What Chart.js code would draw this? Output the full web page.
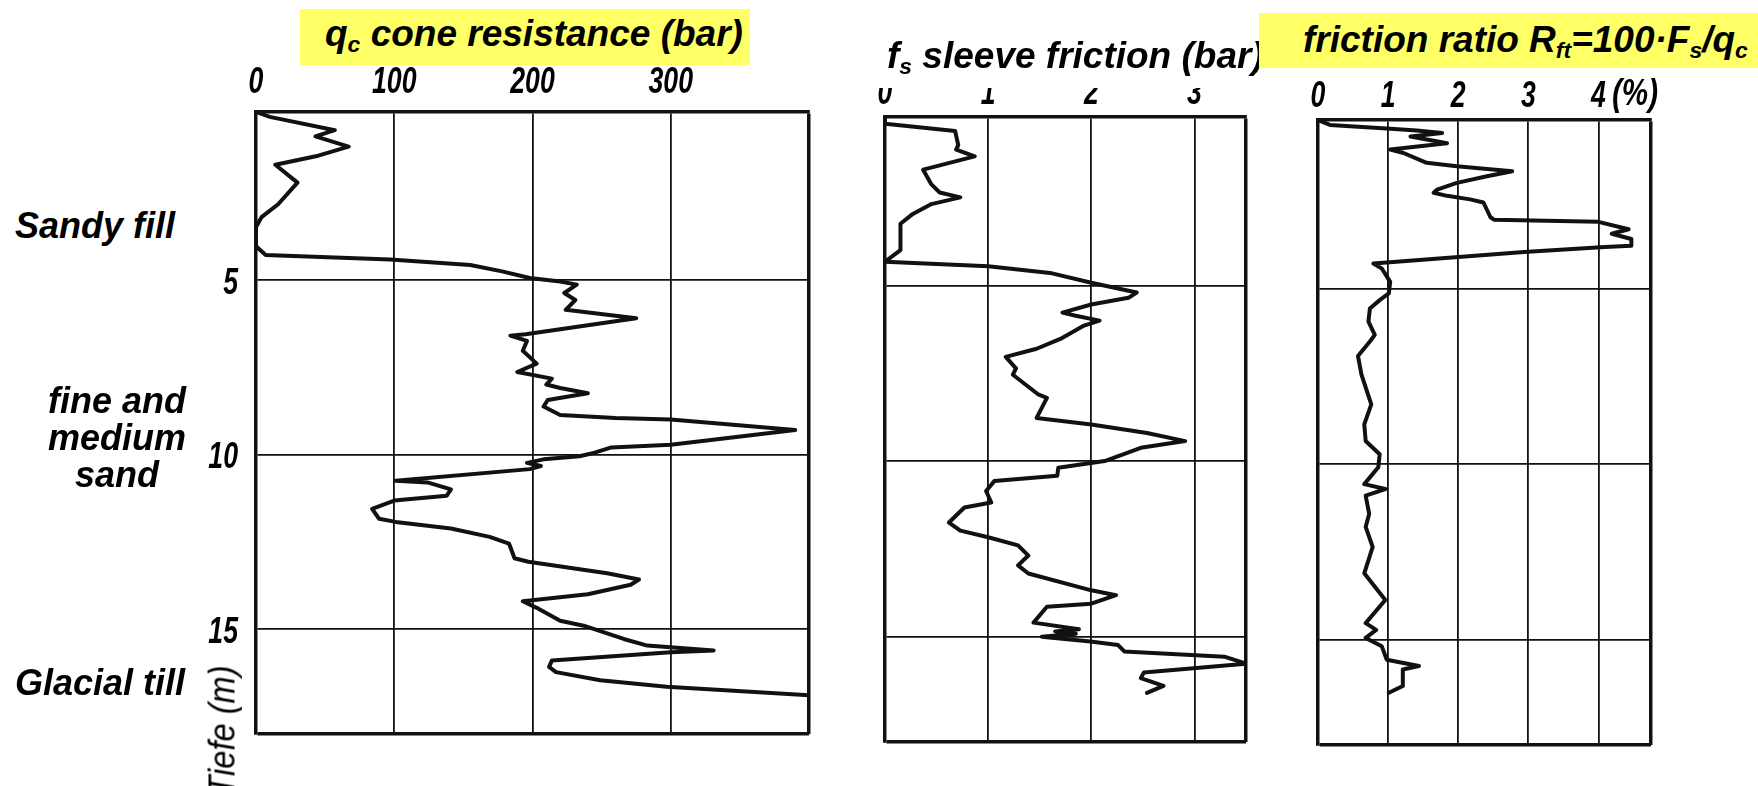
<!DOCTYPE html>
<html>
<head>
<meta charset="utf-8">
<script src="https://cdn.jsdelivr.net/npm/chart.js@4.4.0/dist/chart.umd.min.js"></script>
<style>
  html, body { margin: 0; padding: 0; background: #fff; }
  #page { position: relative; width: 1758px; height: 786px; overflow: hidden; background: #fff;
          font-family: 'Liberation Sans', Arial, sans-serif; color: #000; }
  canvas { position: absolute; }
  .box { position: absolute; }
  .yellow { background: #ffff66; }
  .title { position: absolute; font-weight: bold; font-style: italic; font-size: 37px; line-height: 37px; white-space: nowrap; }
  .title sub { font-size: 62%; vertical-align: -0.28em; line-height: 0; }
  .layer { position: absolute; font-weight: bold; font-style: italic; font-size: 36px; line-height: 37px; white-space: nowrap; }
  .axisText { position: absolute; font-style: italic; font-weight: bold; font-size: 37px; line-height: 37px; white-space: nowrap; }
</style>
</head>
<body>
<div id="page">
  <canvas id="qcChart" width="650" height="720" style="left:180px;top:40px;width:650px;height:720px"></canvas>
  <canvas id="fsChart" width="430" height="720" style="left:840px;top:40px;width:430px;height:720px"></canvas>
  <canvas id="rfChart" width="420" height="720" style="left:1280px;top:40px;width:420px;height:720px"></canvas>

  <!-- titles -->
  <div class="box yellow" style="left:300px;top:9px;width:450px;height:56px;z-index:2"></div>
  <div class="title" style="left:325px;top:15px;z-index:3">q<sub>c</sub> cone resistance (bar)</div>

  <div class="box" style="left:870px;top:30px;width:389px;height:58px;background:#fff;z-index:2"></div>
  <div class="title" style="left:887px;top:37px;z-index:3">f<sub>s</sub> sleeve friction (bar)</div>

  <div class="box yellow" style="left:1259px;top:13px;width:499px;height:55px;z-index:4"></div>
  <div class="title" style="left:1303px;top:21px;z-index:5">friction ratio R<sub>ft</sub>=100·F<sub>s</sub>/q<sub>c</sub></div>

  <div class="axisText" style="left:1612px;top:74px;transform:scaleX(0.8);transform-origin:left">(%)</div>

  <!-- soil layers -->
  <div class="layer" style="left:15px;top:207px">Sandy fill</div>
  <div class="layer" style="left:17px;top:382px;width:200px;text-align:center">fine and<br>medium<br>sand</div>
  <div class="layer" style="left:15px;top:664px">Glacial till</div>

  <div class="axisText" style="left:147px;top:712px;width:150px;font-size:37px;font-weight:normal;text-align:center;transform:rotate(-90deg) scaleX(0.88)">Tiefe (m)</div>
</div>

<script>
const qcDepth = [0.2, 0.34, 0.72, 0.9, 1.19, 1.45, 1.71, 2.22, 2.84, 3.21, 3.49, 4.04, 4.29, 4.42, 4.58, 4.76, 4.95,
    5.05, 5.14, 5.38, 5.58, 5.86, 6.1, 6.56, 6.6, 6.75, 7.03, 7.4, 7.64, 7.83, 8.0, 8.1, 8.25, 8.44, 8.63, 8.87,
    8.96, 9.0, 9.3, 9.72, 9.8, 9.95, 10.05, 10.14, 10.24, 10.33, 10.42, 10.75, 10.8, 11.0, 11.18, 11.32, 11.56,
    11.84, 11.93, 12.12, 12.36, 12.55, 12.97, 13.07, 13.4, 13.58, 13.73, 14.0, 14.2, 14.39, 14.76, 14.9, 15.28,
    15.47, 15.61, 15.66, 15.9, 16.08, 16.23, 16.46, 16.65, 16.89];
const qcValue = [0, 10, 57, 43, 67, 45, 14, 30, 16, 4, 0, 0, 7, 97, 155, 178, 198,
    220, 232, 223, 231, 224, 275, 195, 184, 196, 193, 203, 189, 214, 210, 220, 240, 211, 208, 220,
    260, 300, 390, 300, 257, 245, 234, 208, 196, 206, 198, 101, 124, 141, 138, 100, 84,
    89, 101, 141, 169, 183, 187, 197, 254, 277, 271, 240, 193, 203, 220, 237, 266,
    283, 331, 300, 214, 212, 217, 249, 297, 400];

const fsDepth = [0.2, 0.39, 0.6, 1.0, 1.13, 1.32, 1.7, 2.12, 2.35, 2.49, 2.68, 2.96, 3.24, 3.99, 4.32, 4.45, 4.64,
    4.92, 5.2, 5.35, 5.54, 5.77, 5.86, 6.0, 6.14, 6.52, 6.8, 7.03, 7.36, 7.54, 8.11, 8.2, 8.77, 8.96, 9.2,
    9.43, 9.62, 10.0, 10.19, 10.42, 10.57, 10.85, 11.18, 11.32, 11.75, 11.98, 12.17, 12.4, 12.69, 12.97, 13.2,
    13.68, 13.82, 14.06, 14.15, 14.6, 14.79, 14.85, 14.92, 15.0, 15.14, 15.24, 15.42, 15.57, 15.77, 16.02,
    16.18, 16.4, 16.6];
const fsValue = [0, 0, 0.68, 0.71, 0.69, 0.87, 0.37, 0.45, 0.53, 0.73, 0.45, 0.27, 0.15, 0.15, 0, 1.0, 1.6,
    2.0, 2.44, 2.36, 2.0, 1.72, 1.85, 2.08, 1.93, 1.7, 1.47, 1.17, 1.27, 1.24, 1.49, 1.57, 1.47, 2.0, 2.54,
    2.91, 2.48, 2.13, 1.68, 1.67, 1.06, 0.98, 1.03, 0.77, 0.62, 0.73, 1.0, 1.29, 1.39, 1.29, 1.39,
    2.0, 2.24, 2.0, 1.57, 1.44, 1.88, 1.65, 1.85, 1.52, 1.99, 2.26, 2.32, 3.29, 3.5, 2.51,
    2.48, 2.7, 2.54];

const rfDepth = [0.2, 0.34, 0.44, 0.5, 0.57, 0.67, 0.86, 1.04, 1.14, 1.42, 1.52, 1.66, 1.8, 1.99, 2.18, 2.27,
    2.36, 2.46, 2.55, 2.97, 3.04, 3.1, 3.31, 3.44, 3.59, 3.78, 3.82, 3.96, 4.29, 4.43, 4.81, 5.14, 5.33, 5.57,
    5.94, 6.32, 6.51, 6.92, 7.45, 8.3, 8.87, 9.34, 9.72, 10.09, 10.57, 10.71, 10.9, 11.42, 11.79, 12.36, 13.11,
    13.87, 14.53, 14.72, 14.95, 15.19, 15.57, 15.75, 15.85, 16.32, 16.51];
const rfValue = [0, 0.17, 0.98, 1.41, 1.77, 1.32, 1.84, 1.03, 1.22, 1.55, 1.98, 2.77, 2.41, 1.98, 1.7, 1.65,
    1.84, 2.17, 2.36, 2.46, 2.51, 4.0, 4.43, 4.19, 4.47, 4.47, 4.09, 2.94, 0.79, 0.91, 1.03, 1.01, 0.88, 0.74,
    0.72, 0.81, 0.74, 0.57, 0.62, 0.76, 0.66, 0.68, 0.88, 0.86, 0.66, 0.96, 0.68, 0.73, 0.68, 0.78, 0.66,
    0.96, 0.68, 0.83, 0.68, 0.91, 0.98, 1.44, 1.21, 1.21, 1.01];

// tick labels
const depthTicks = [5, 10, 15];
const qcTicks = [0, 100, 200, 300];
const fsTicks = [0, 1, 2, 3];
const rfTicks = [0, 1, 2, 3, 4];

const DEPTH_MIN = 0.2;
const DEPTH_MAX = 18;
const INK = '#111';

/**
 * 窄斜体刻度文字 (原图是压缩字体), 位置取自坐标轴
 */
const narrowTicks = {
    id: 'narrowTicks',
    afterDraw(chart, args, opts) {
        const ctx = chart.ctx;
        const area = chart.chartArea;
        ctx.save();
        ctx.fillStyle = '#000';
        ctx.font = 'italic bold 37px "Liberation Sans", Arial, sans-serif';
        ctx.textBaseline = 'alphabetic';

        ctx.textAlign = 'center';
        opts.xTicks.forEach(v => {
            ctx.save();
            ctx.translate(chart.scales.x.getPixelForValue(v), area.top - opts.xGap);
            ctx.scale(0.72, 1);
            ctx.fillText(String(v), 0, 0);
            ctx.restore();
        });

        ctx.textAlign = 'right';
        (opts.yTicks || []).forEach(v => {
            ctx.save();
            ctx.translate(area.left - 18, chart.scales.y.getPixelForValue(v) + 14);
            ctx.scale(0.72, 1);
            ctx.fillText(String(v), 0, 0);
            ctx.restore();
        });
        ctx.restore();
    }
};

/**
 * 一个探测面板: x 轴在上, 深度向下
 */
function makePanel(id, depth, values, xMax, xTicks, box) {
    const points = depth.map((d, i) => ({ x: values[i], y: d }));
    const edgeWidth = ctx => (ctx.tick && (ctx.tick.value === xMax || ctx.tick.value === DEPTH_MAX)) ? 3.5 : 1.8;

    return new Chart(document.getElementById(id), {
        type: 'scatter',
        data: {
            datasets: [{
                data: points,
                showLine: true,
                borderColor: INK,
                borderWidth: 4,
                borderJoinStyle: 'round',
                borderCapStyle: 'round',
                pointRadius: 0,
                tension: 0
            }]
        },
        options: {
            responsive: false,
            animation: false,
            layout: { padding: { left: 0, top: 0, right: box.right, bottom: box.bottom } },
            plugins: {
                legend: { display: false },
                tooltip: { enabled: false },
                narrowTicks: { xTicks: xTicks, xGap: box.xGap, yTicks: box.yTicks }
            },
            scales: {
                x: {
                    type: 'linear',
                    position: 'top',
                    min: 0,
                    max: xMax,
                    afterBuildTicks: s => { s.ticks = xTicks.concat([xMax]).map(v => ({ value: v })); },
                    afterFit: s => { s.height = box.top; },
                    ticks: { display: false },
                    grid: { color: INK, lineWidth: edgeWidth, drawTicks: false },
                    border: { display: true, color: INK, width: 3.5 }
                },
                y: {
                    type: 'linear',
                    reverse: true,
                    min: DEPTH_MIN,
                    max: DEPTH_MAX,
                    afterBuildTicks: s => { s.ticks = [DEPTH_MIN].concat(depthTicks, [DEPTH_MAX]).map(v => ({ value: v })); },
                    afterFit: s => { s.width = box.left; },
                    ticks: { display: false },
                    grid: { color: INK, lineWidth: edgeWidth, drawTicks: false },
                    border: { display: true, color: INK, width: 3.5 }
                }
            }
        },
        plugins: [narrowTicks]
    });
}

makePanel('qcChart', qcDepth, qcValue, 400, qcTicks, { left: 76, top: 72, right: 21, bottom: 26, xGap: 19, yTicks: depthTicks });
makePanel('fsChart', fsDepth, fsValue, 3.5, fsTicks, { left: 45, top: 77, right: 24, bottom: 18, xGap: 13 });
makePanel('rfChart', rfDepth, rfValue, 4.75, rfTicks, { left: 38, top: 80, right: 49, bottom: 15, xGap: 13 });
</script>
</body>
</html>
